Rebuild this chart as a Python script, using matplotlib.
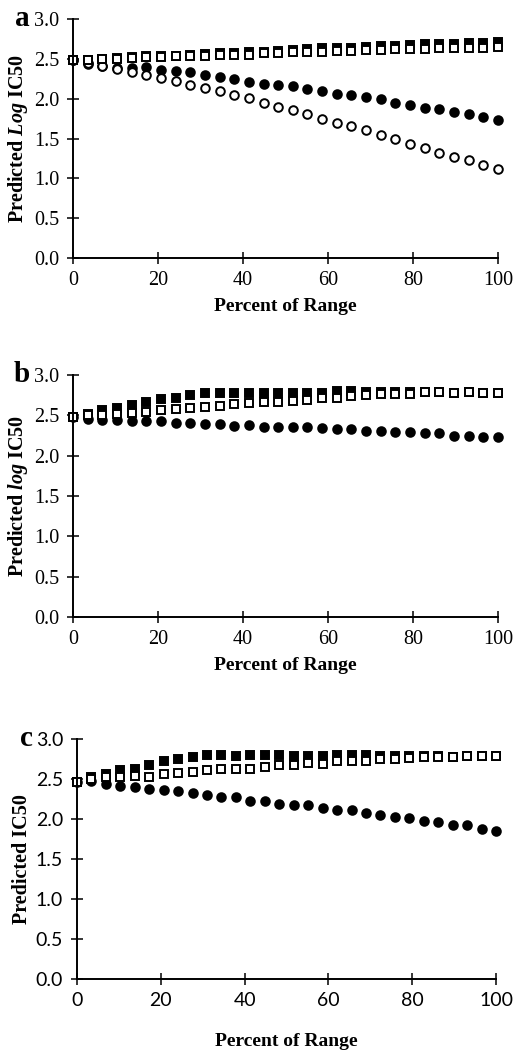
import numpy as np
import matplotlib
matplotlib.use('Agg')
import matplotlib.pyplot as plt

plt.rcParams['mathtext.fontset'] = 'custom'
plt.rcParams['mathtext.rm'] = 'Liberation Serif:bold'
plt.rcParams['mathtext.it'] = 'Liberation Serif:italic:bold'
plt.rcParams['mathtext.bf'] = 'Liberation Serif:bold'

####################
# Data (30 points, 0..100 percent of range)
pct = np.linspace(0, 100, 30)

a_open_sq = [2.48, 2.49, 2.50, 2.50, 2.51, 2.52, 2.52, 2.53, 2.54, 2.54,
             2.55, 2.55, 2.55, 2.57, 2.57, 2.58, 2.59, 2.59, 2.60, 2.60,
             2.61, 2.61, 2.62, 2.62, 2.62, 2.63, 2.64, 2.64, 2.64, 2.65]
a_fill_sq = [2.48, 2.49, 2.50, 2.51, 2.52, 2.53, 2.53, 2.54, 2.55, 2.56,
             2.57, 2.57, 2.58, 2.59, 2.60, 2.61, 2.62, 2.63, 2.64, 2.64,
             2.65, 2.66, 2.66, 2.67, 2.68, 2.68, 2.69, 2.70, 2.70, 2.71]
a_fill_ci = [2.48, 2.44, 2.41, 2.38, 2.39, 2.40, 2.36, 2.35, 2.33, 2.30,
             2.27, 2.25, 2.21, 2.19, 2.17, 2.16, 2.12, 2.10, 2.06, 2.05,
             2.02, 1.99, 1.95, 1.92, 1.88, 1.87, 1.83, 1.81, 1.77, 1.73]
a_open_ci = [2.48, 2.45, 2.41, 2.37, 2.33, 2.30, 2.26, 2.22, 2.17, 2.13,
             2.10, 2.05, 2.01, 1.95, 1.90, 1.86, 1.81, 1.75, 1.70, 1.66,
             1.61, 1.55, 1.49, 1.43, 1.38, 1.32, 1.27, 1.23, 1.17, 1.12]

b_fill_sq = [2.48, 2.52, 2.56, 2.59, 2.63, 2.66, 2.70, 2.72, 2.75, 2.78,
             2.78, 2.78, 2.78, 2.78, 2.78, 2.78, 2.78, 2.78, 2.80, 2.80,
             2.79, 2.79, 2.79, 2.79, 2.79, 2.79, 2.78, 2.79, 2.78, 2.78]
b_open_sq = [2.48, 2.50, 2.51, 2.52, 2.53, 2.54, 2.56, 2.58, 2.59, 2.60,
             2.61, 2.64, 2.65, 2.66, 2.67, 2.68, 2.69, 2.71, 2.72, 2.74,
             2.75, 2.76, 2.77, 2.77, 2.79, 2.79, 2.78, 2.79, 2.78, 2.78]
b_fill_ci = [2.48, 2.45, 2.44, 2.44, 2.43, 2.43, 2.43, 2.41, 2.41, 2.39,
             2.39, 2.37, 2.38, 2.36, 2.36, 2.36, 2.35, 2.34, 2.33, 2.33,
             2.31, 2.31, 2.29, 2.29, 2.28, 2.28, 2.25, 2.25, 2.23, 2.23]

c_fill_sq = [2.46, 2.52, 2.56, 2.61, 2.62, 2.67, 2.72, 2.75, 2.77, 2.80,
             2.80, 2.79, 2.80, 2.80, 2.80, 2.79, 2.79, 2.79, 2.80, 2.80,
             2.80, 2.79, 2.79, 2.79, 2.79, 2.79, 2.78, 2.79, 2.79, 2.79]
c_open_sq = [2.46, 2.50, 2.52, 2.52, 2.54, 2.53, 2.56, 2.57, 2.59, 2.61,
             2.62, 2.63, 2.62, 2.65, 2.67, 2.68, 2.70, 2.69, 2.72, 2.73,
             2.73, 2.75, 2.75, 2.76, 2.77, 2.78, 2.78, 2.79, 2.79, 2.79]
c_fill_ci = [2.46, 2.47, 2.44, 2.41, 2.40, 2.38, 2.36, 2.35, 2.32, 2.30,
             2.28, 2.28, 2.23, 2.23, 2.19, 2.18, 2.17, 2.14, 2.11, 2.11,
             2.07, 2.05, 2.03, 2.01, 1.97, 1.96, 1.92, 1.92, 1.87, 1.85]

xticks = [0, 20, 40, 60, 80, 100]
yticks = [0.0, 0.5, 1.0, 1.5, 2.0, 2.5, 3.0]

####################
# Plotting

serif = 'Liberation Serif'
fig = plt.figure(figsize=(5.14, 10.5), dpi=100)
W, H = 514.0, 1050.0

def make_axes(left, right, top, bottom):
    return fig.add_axes([left / W, 1 - bottom / H, (right - left) / W, (bottom - top) / H])

def style(ax, letter, ylabel, tickfont, tsize, xpad):
    ax.set_xlim(0, 100)
    ax.set_ylim(0, 3.0)
    for s in ['top', 'right']:
        ax.spines[s].set_visible(False)
    for s in ['left', 'bottom']:
        ax.spines[s].set_linewidth(1.4)
    ax.set_xticks(xticks)
    ax.set_yticks(yticks)
    ax.set_xticklabels([str(t) for t in xticks], family=tickfont, fontsize=tsize)
    ax.set_yticklabels(['%.1f' % t for t in yticks], family=tickfont, fontsize=tsize)
    ax.tick_params(direction='inout', length=8, width=1.1)
    ax.tick_params(axis='x', pad=5)
    ax.tick_params(axis='y', pad=6)
    ax.set_xlabel('Percent of Range', family=serif, fontweight='bold', fontsize=14, labelpad=xpad)
    ax.set_ylabel(ylabel, family=serif, fontweight='bold', fontsize=14.5, labelpad=3)
    ax.text(-0.12, 1.0, letter, transform=ax.transAxes, family=serif,
            fontweight='bold', fontsize=21, ha='center', va='center')

ms = 6.2
mk = dict(linestyle='none', markeredgewidth=1.4, markeredgecolor='black', clip_on=False)

# panel a
ax1 = make_axes(73, 498, 19, 258)
ax1.plot(pct, a_fill_ci, marker='o', ms=ms, color='black', **mk)
ax1.plot(pct, a_open_ci, marker='o', ms=ms, markerfacecolor='white', **mk)
ax1.plot(pct, a_fill_sq, marker='s', ms=ms, color='black', **mk)
ax1.plot(pct, a_open_sq, marker='s', ms=ms, markerfacecolor='white', **mk)
style(ax1, 'a', r'Predicted $\mathit{Log}$ IC50', serif, 14.5, 6)

# panel b
ax2 = make_axes(73, 498, 375, 617)
ax2.plot(pct, b_fill_ci, marker='o', ms=ms, color='black', **mk)
ax2.plot(pct, b_fill_sq, marker='s', ms=ms, color='black', **mk)
ax2.plot(pct, b_open_sq, marker='s', ms=ms, markerfacecolor='white', **mk)
style(ax2, 'b', r'Predicted $\mathit{log}$ IC50', serif, 14.5, 6)

# panel c
ax3 = make_axes(77, 496, 739, 979)
ax3.plot(pct, c_fill_ci, marker='o', ms=ms, color='black', **mk)
ax3.plot(pct, c_fill_sq, marker='s', ms=ms, color='black', **mk)
ax3.plot(pct, c_open_sq, marker='s', ms=ms, markerfacecolor='white', **mk)
style(ax3, 'c', 'Predicted IC50', 'Lato', 14, 18)

fig.savefig('out.png', dpi=100)
